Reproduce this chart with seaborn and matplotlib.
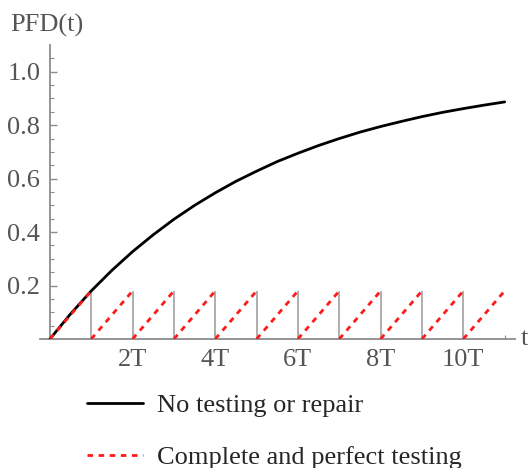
import numpy as np
import pandas as pd
import matplotlib
matplotlib.use("Agg")
import matplotlib.pyplot as plt
from matplotlib.lines import Line2D
import seaborn as sns

# ---- data (t in units of the test interval T) ----
t_curve = [0, 0.5, 1, 1.5, 2, 2.5, 3, 3.5, 4, 4.5, 5, 5.5, 6, 6.5, 7, 7.5,
           8, 8.5, 9, 9.5, 10, 10.5, 11]
pfd_no_test = [0.0, 0.094, 0.180, 0.257, 0.327, 0.390, 0.448, 0.500, 0.547,
               0.590, 0.628, 0.664, 0.695, 0.724, 0.750, 0.774, 0.795, 0.814,
               0.832, 0.848, 0.862, 0.875, 0.887]
test_times = [1, 2, 3, 4, 5, 6, 7, 8, 9, 10]          # gray drops at each test
ramp_starts = [0, 1, 2, 3, 4, 5, 6, 7, 8, 9, 10]      # sawtooth segment starts
ramp_peak = 0.18                                      # PFD just before each test
x_tick_vals = [2, 4, 6, 8, 10]
x_tick_labels = ["2T", "4T", "6T", "8T", "10T"]
y_tick_vals = [0.2, 0.4, 0.6, 0.8, 1.0]
y_tick_labels = ["0.2", "0.4", "0.6", "0.8", "1.0"]
legend_labels = ["No testing or repair", "Complete and perfect testing"]

sns.set_style("white")
plt.rcParams["font.family"] = ["Liberation Serif", "DejaVu Serif"]

W, H = 528, 468
FS = 19
fig = plt.figure(figsize=(W / 100, H / 100), dpi=100)
ax = fig.add_axes([40 / W, 1 - 339 / H, (515 - 40) / W, (339 - 45) / H])

df_curve = pd.DataFrame({"t": t_curve, "pfd": pfd_no_test})
rows = []
for i, s in enumerate(ramp_starts):
    rows.append({"seg": i, "t": s, "pfd": 0.0})
    rows.append({"seg": i, "t": s + 1, "pfd": ramp_peak})
df_saw = pd.DataFrame(rows)

axis_gray = "#8c8c8c"
label_gray = "#555555"

ax.vlines(test_times, 0, ramp_peak, color="#a8a8a8", lw=1.3, zorder=2)
sns.lineplot(data=df_curve, x="t", y="pfd", color="black", lw=2.0,
             ax=ax, zorder=3)
sns.lineplot(data=df_saw, x="t", y="pfd", units="seg", estimator=None,
             color="#ff1a1a", lw=2.0, linestyle=(0, (2, 2)), ax=ax, zorder=4)

ax.set_xlim(-0.24, 11.25)
ax.set_ylim(0, 1.1)
ax.set_xlabel("")
ax.set_ylabel("")

for s in ["top", "right"]:
    ax.spines[s].set_visible(False)
ax.spines["left"].set_position(("data", 0))
ax.spines["bottom"].set_position(("data", 0))
for s in ["left", "bottom"]:
    ax.spines[s].set_color(axis_gray)
    ax.spines[s].set_linewidth(1.3)

ax.set_xticks(x_tick_vals)
ax.set_xticklabels(x_tick_labels)
ax.set_xticks([1, 3, 5, 7, 9, 11], minor=True)
ax.set_yticks(y_tick_vals)
ax.set_yticklabels(y_tick_labels)
ax.set_yticks([v for v in np.arange(0.05, 1.1, 0.05)
               if min(abs(v - y) for y in y_tick_vals) > 1e-6], minor=True)
ax.tick_params(axis="both", which="both", left=True, bottom=True,
               direction="in")
ax.tick_params(axis="both", which="major", length=5, width=1.0,
               color=axis_gray, labelcolor=label_gray, labelsize=FS, pad=7)
ax.tick_params(axis="both", which="minor", length=3, width=0.8,
               color=axis_gray)

fig.text(10 / W, 1 - 32 / H, "PFD(t)", fontsize=FS, color=label_gray,
         va="baseline", ha="left")
fig.text(521 / W, 1 - 345 / H, "t", fontsize=FS, color=label_gray,
         va="baseline", ha="left")

handles = [Line2D([], [], color="black", lw=2.0),
           Line2D([], [], color="#ff1a1a", lw=2.0, linestyle=(0, (2, 2)))]
fig.legend(handles, legend_labels, loc="upper left",
           bbox_to_anchor=(87 / W, 1 - 394 / H), frameon=False,
           fontsize=FS, handlelength=2.12, handletextpad=0.53,
           labelspacing=1.08, borderaxespad=0, borderpad=0)

fig.savefig("out.png", dpi=100)
